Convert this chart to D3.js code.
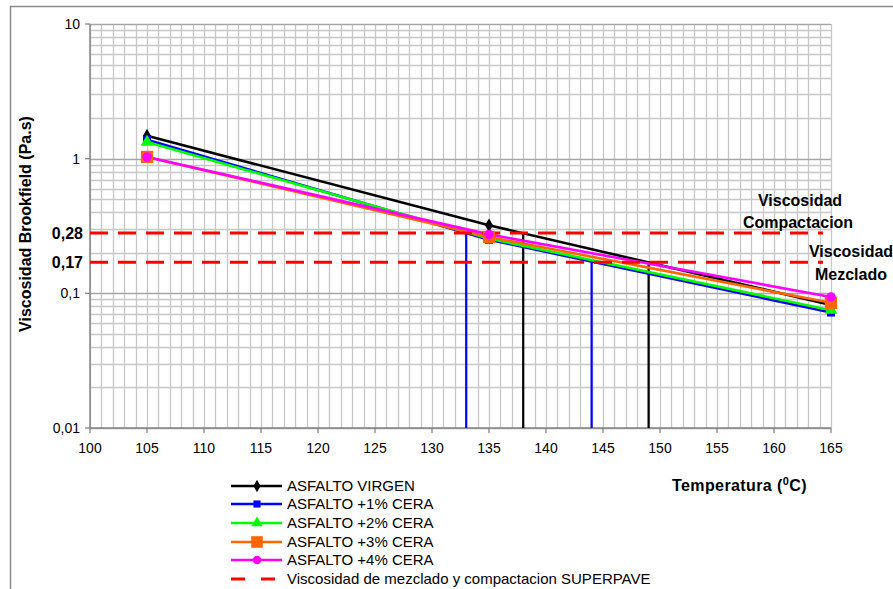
<!DOCTYPE html>
<html>
<head>
<meta charset="utf-8">
<script src="https://cdn.jsdelivr.net/npm/d3@7"></script>
<style>
  body { margin: 0; background: #fff; }
  svg { font-family: "Liberation Sans", Arial, sans-serif; }
</style>
</head>
<body>
<svg id="chart" width="893" height="589"></svg>
<script>
// data
var temps = [105, 135, 165]
var virgen = [1.48, 0.32, 0.082]
var cera1 = [1.38, 0.25, 0.072]
var cera2 = [1.33, 0.255, 0.075]
var cera3 = [1.03, 0.262, 0.085]
var cera4 = [1.03, 0.274, 0.094]
var seriesNames = ["ASFALTO VIRGEN", "ASFALTO +1% CERA", "ASFALTO +2% CERA", "ASFALTO +3% CERA", "ASFALTO +4% CERA"]
var limitNames = ["Viscosidad de mezclado y compactacion SUPERPAVE"]
var limitVisc = [0.28, 0.17]
var limitLabels = ["0,28", "0,17"]
var dropTemps = [133, 138, 144, 149]
var dropVisc = [0.28, 0.28, 0.17, 0.17]
var xTicks = [100, 105, 110, 115, 120, 125, 130, 135, 140, 145, 150, 155, 160, 165]
var yTicks = [0.01, 0.1, 1, 10]
var yTickLabels = ["0,01", "0,1", "1", "10"]

var colors = ["#000000", "#0000ff", "#00ff00", "#ff6600", "#ff00ff"]
var dropColors = ["#0000ff", "#000000", "#0000ff", "#000000"]
var allSeries = [virgen, cera1, cera2, cera3, cera4]

var svg = d3.select("#chart")

// outer chart border
svg.append("rect")
  .attr("x", 10.5).attr("y", 6.5)
  .attr("width", 900).attr("height", 600)
  .attr("fill", "#fff")
  .attr("stroke", "#8c8c8c")
  .attr("stroke-width", 1.5)

var x = d3.scaleLinear().domain([100, 165]).range([90, 831])
var y = d3.scaleLog().domain([0.01, 10]).range([428, 24])

var grid = svg.append("g")

// vertical grid every degree
grid.selectAll(".vg")
  .data(d3.range(100, 166))
  .enter().append("line")
  .attr("x1", function(d){ return Math.round(x(d)) + .5 })
  .attr("x2", function(d){ return Math.round(x(d)) + .5 })
  .attr("y1", y(10)).attr("y2", y(0.01))
  .attr("stroke", "#c8c8c8")
  .attr("stroke-width", 1.3)

// horizontal grid, minor log lines
var minor = []
;[0.01, 0.1, 1].forEach(function(dec){
  for (var k = 1; k <= 9; k++) minor.push(dec * k)
})
minor.push(10)
grid.selectAll(".hg")
  .data(minor)
  .enter().append("line")
  .attr("x1", x(100)).attr("x2", x(165))
  .attr("y1", function(d){ return Math.round(y(d)) + .5 })
  .attr("y2", function(d){ return Math.round(y(d)) + .5 })
  .attr("stroke", function(d){ return yTicks.indexOf(+d.toPrecision(3)) >= 0 ? "#a6a6a6" : "#c8c8c8" })
  .attr("stroke-width", 1.3)

// axes
var axisColor = "#868686"
svg.append("line")
  .attr("x1", x(100)).attr("x2", x(100))
  .attr("y1", y(10)).attr("y2", y(0.01))
  .attr("stroke", axisColor).attr("stroke-width", 1.5)
svg.append("line")
  .attr("x1", x(100)).attr("x2", x(165))
  .attr("y1", y(0.01)).attr("y2", y(0.01))
  .attr("stroke", axisColor).attr("stroke-width", 1.5)

svg.selectAll(".yt")
  .data(yTicks)
  .enter().append("line")
  .attr("x1", x(100) - 5).attr("x2", x(100))
  .attr("y1", function(d){ return y(d) }).attr("y2", function(d){ return y(d) })
  .attr("stroke", axisColor).attr("stroke-width", 1.3)

svg.selectAll(".ytl")
  .data(yTicks)
  .enter().append("text")
  .attr("x", 80)
  .attr("y", function(d){ return y(d) })
  .attr("dy", "0.36em")
  .attr("text-anchor", "end")
  .style("font-size", "14px")
  .text(function(d, i){ return yTickLabels[i] })

svg.selectAll(".xt")
  .data(xTicks)
  .enter().append("line")
  .attr("x1", function(d){ return x(d) }).attr("x2", function(d){ return x(d) })
  .attr("y1", y(0.01)).attr("y2", y(0.01) + 5)
  .attr("stroke", axisColor).attr("stroke-width", 1.3)

svg.selectAll(".xtl")
  .data(xTicks)
  .enter().append("text")
  .attr("x", function(d){ return x(d) })
  .attr("y", 453)
  .attr("text-anchor", "middle")
  .style("font-size", "14px")
  .text(function(d){ return d })

// axis titles
svg.append("text")
  .attr("transform", "translate(30.5,224) rotate(-90)")
  .attr("text-anchor", "middle")
  .style("font-size", "16px")
  .style("font-weight", "bold")
  .text("Viscosidad Brookfield (Pa.s)")

var xt = svg.append("text")
  .attr("x", 672).attr("y", 491)
  .style("font-size", "16px")
  .style("font-weight", "bold")
  .style("letter-spacing", "0.4px")
xt.append("tspan").text("Temperatura (")
xt.append("tspan").attr("dy", -6).style("font-size", "11px").text("0")
xt.append("tspan").attr("dy", 6).text("C)")

// drop lines
svg.selectAll(".drop")
  .data(dropTemps)
  .enter().append("line")
  .attr("x1", function(d){ return x(d) }).attr("x2", function(d){ return x(d) })
  .attr("y1", function(d, i){ return y(dropVisc[i]) })
  .attr("y2", y(0.01))
  .attr("stroke", function(d, i){ return dropColors[i] })
  .attr("stroke-width", 2.2)

// series lines
var line = d3.line()
  .x(function(d, i){ return x(temps[i]) })
  .y(function(d){ return y(d) })

svg.selectAll(".series")
  .data(allSeries)
  .enter().append("path")
  .attr("d", line)
  .attr("fill", "none")
  .attr("stroke", function(d, i){ return colors[i] })
  .attr("stroke-width", 2.6)

// limit dashed lines
svg.selectAll(".limit")
  .data(limitVisc)
  .enter().append("line")
  .attr("x1", x(100)).attr("x2", 823)
  .attr("y1", function(d){ return y(d) }).attr("y2", function(d){ return y(d) })
  .attr("stroke", "#ff0000")
  .attr("stroke-width", 3)
  .attr("stroke-dasharray", "18,10")

svg.selectAll(".limitLabel")
  .data(limitVisc)
  .enter().append("text")
  .attr("x", 83)
  .attr("y", function(d){ return y(d) })
  .attr("dy", "0.36em")
  .attr("text-anchor", "end")
  .style("font-size", "16px")
  .style("font-weight", "bold")
  .text(function(d, i){ return limitLabels[i] })

// markers
var symbolTypes = [d3.symbolDiamond, d3.symbolSquare, d3.symbolTriangle, d3.symbolSquare, d3.symbolCircle]
var symbolSizes = [55, 64, 70, 150, 70]

function drawMarker(g, i, cx, cy, scale) {
  g.append("path")
    .attr("transform", "translate(" + cx + "," + cy + ")")
    .attr("d", d3.symbol().type(symbolTypes[i]).size(symbolSizes[i] * (scale || 1))())
    .attr("fill", colors[i])
}

allSeries.forEach(function(s, i){
  var g = svg.append("g")
  s.forEach(function(v, j){
    drawMarker(g, i, x(temps[j]), y(v))
  })
})

// right side labels
function boldLabel(txt, px, py) {
  svg.append("text")
    .attr("x", px).attr("y", py)
    .attr("text-anchor", "middle")
    .style("font-size", "16px")
    .style("font-weight", "bold")
    .text(txt)
}
boldLabel("Viscosidad", 800, 206)
boldLabel("Compactacion", 798, 228)
boldLabel("Viscosidad", 851, 257)
boldLabel("Mezclado", 851, 280)

// legend
var legendY = [486, 504, 523, 542, 560]
var legend = svg.append("g")
seriesNames.forEach(function(name, i){
  legend.append("line")
    .attr("x1", 231).attr("x2", 282)
    .attr("y1", legendY[i]).attr("y2", legendY[i])
    .attr("stroke", colors[i])
    .attr("stroke-width", 2.6)
  drawMarker(legend, i, 257, legendY[i], i == 3 ? 0.9 : 0.8)
  legend.append("text")
    .attr("x", 287).attr("y", legendY[i])
    .attr("dy", "0.36em")
    .style("font-size", "15px")
    .text(name)
})
legend.append("line")
  .attr("x1", 231).attr("x2", 278)
  .attr("y1", 579).attr("y2", 579)
  .attr("stroke", "#ff0000")
  .attr("stroke-width", 3)
  .attr("stroke-dasharray", "14,16")
legend.append("text")
  .attr("x", 287).attr("y", 579)
  .attr("dy", "0.36em")
  .style("font-size", "15px")
  .text(limitNames[0])
</script>
</body>
</html>
